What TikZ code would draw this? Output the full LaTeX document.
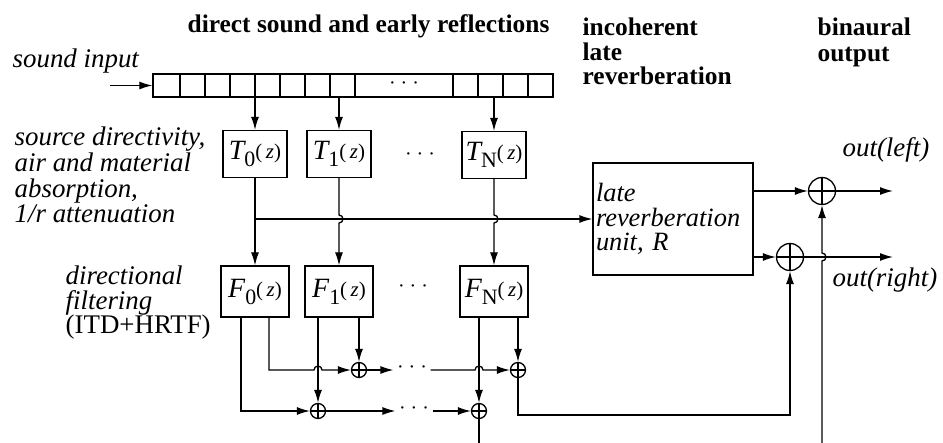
\documentclass[tikz,border=0pt]{standalone}
\usepackage{fontspec}
\setmainfont{Liberation Serif}
\usetikzlibrary{arrows.meta,calc,positioning}
\tikzset{
  blk/.style={draw,minimum width=64bp,minimum height=47bp,inner sep=1bp},
  fblk/.style={draw,minimum width=68bp,minimum height=51bp,inner sep=1bp},
  sumnode/.style={circle,draw,minimum size=15bp,inner sep=0pt,
    path picture={\draw (path picture bounding box.north) -- (path picture bounding box.south)
      (path picture bounding box.west) -- (path picture bounding box.east);}},
  bigsum/.style={sumnode,minimum size=27bp},
  head/.style={font=\fontsize{25.5}{25}\selectfont\bfseries,inner sep=0pt,anchor=base west,align=left},
  note/.style={font=\fontsize{27}{26}\selectfont\itshape,inner sep=0pt,anchor=base west,align=left},
  dotsnode/.style={font=\fontsize{20}{20}\selectfont,inner sep=3bp}
}
\newcommand\tf[2]{{\fontsize{28}{28}\selectfont\itshape #1}\raisebox{-7bp}{\fontsize{22}{22}\selectfont #2}{\fontsize{21}{21}\selectfont\raisebox{1bp}{(\,\textit{z})}}}

\begin{document}
\begin{tikzpicture}[x=1bp,y=-1bp,line width=1.3bp,>={Latex[length=13bp,width=8bp]}]
  \useasboundingbox (0,0) rectangle (943,443);
  % headings (multi-line nodes sit on their last baseline)
  \node[head] (hdirect) at (187,33) {direct sound and early reflections};
  \node[head] (hlate) at (582,85) {incoherent\\late\\reverberation};
  \node[head,font=\fontsize{25.5}{27}\selectfont\bfseries] (hbin) at (817,62) {binaural\\output};
  % side notes
  \node[note] (nin) at (12,68) {sound input};
  \node[note] (nsrc) at (14,223) {source directivity,\\air and material\\absorption,\\1/r attenuation};
  \node[note,font=\fontsize{27}{25}\selectfont\itshape] (ndir) at (65,334) {directional\\filtering\\{\upshape (ITD+HRTF)}};
  % delay line
  \node[draw,minimum width=400bp,minimum height=23bp,inner sep=0pt] (dline) at (353,85.5) {};
  \foreach \x in {180,205,230,255,280,305,330,355,453,478,503,528}
    \draw (\x,0 |- dline.north) -- (\x,0 |- dline.south);
  \node[dotsnode] (ddl) at (404,85.5) {· · ·};
  \coordinate (src) at (110,85.5);
  \draw[->] (src) -- (dline.west);
  % early reflection filters
  \node[blk] (T0) at (255,154) {\tf{T}{0}};
  \node[blk] (T1) at (339,154) {\tf{T}{1}};
  \node[blk] (TN) at (494,155) {\tf{T}{N}};
  \node[dotsnode] (dT) at (420,157) {· · ·};
  \foreach \t in {T0,T1,TN}
    \draw[->] (dline.south -| \t) -- (\t);
  % directional filters
  \node[fblk] (F0) at (255,291.5) {\tf{F}{0}};
  \node[fblk] (F1) at (339,291.5) {\tf{F}{1}};
  \node[fblk] (FN) at (494,291.5) {\tf{F}{N}};
  \node[dotsnode] (dF) at (413,289) {· · ·};
  % late reverberation
  \node[draw,minimum width=160bp,minimum height=112bp,text width=154bp,align=left,inner sep=3bp,
    font=\fontsize{26.5}{24.5}\selectfont\itshape] (R) at (673,219) {late\\reverberation\\unit, R};
  \draw[->] (T0) -- (F0);
  \draw[->] (T0.south |- R.west) -- (R.west);
  \draw[->] (T1) -- ($(T1 |- R.west)+(0,-4)$) arc[start angle=90,end angle=-90,radius=4bp] -- (F1);
  \draw[->] (TN) -- ($(TN |- R.west)+(0,-4)$) arc[start angle=90,end angle=-90,radius=4bp] -- (FN);
  % summation
  \node[sumnode] (u1) at (359,370) {};
  \node[sumnode] (uN) at (518,370) {};
  \node[sumnode] (l1) at (318,411) {};
  \node[sumnode] (lN) at (479,411) {};
  \node[dotsnode] (dup) at (412,370) {· · ·};
  \node[dotsnode] (dlow) at (414,411) {· · ·};
  \draw[->] ([xshift=-14bp]F0.south) |- (l1);
  \draw[->] ([xshift=14bp]F0.south) |- ($(l1 |- u1)+(-4,0)$) arc[start angle=180,end angle=0,radius=4bp] -- (u1);
  \draw[->] (F1.south -| l1) -- (l1);
  \draw[->] (F1.south -| u1) -- (u1);
  \draw[->] (FN.south -| lN) -- (lN);
  \draw[->] (FN.south -| uN) -- (uN);
  \draw[->] (u1) -- (dup);
  \draw[->] (dup) -- ($(lN |- uN)+(-4,0)$) arc[start angle=180,end angle=0,radius=4bp] -- (uN);
  \draw[->] (l1) -- (dlow);
  \draw[->] (dlow) -- (lN);
  % binaural output
  \node[bigsum] (sl) at (822,191) {};
  \node[bigsum] (sr) at (790,257) {};
  \coordinate (bot) at (0,443);
  \coordinate (low) at (0,415);
  \coordinate (outl) at (893,191);
  \coordinate (outr) at (893,257);
  \draw (lN) -- (lN |- bot);
  \draw[->] (uN) |- (sr |- low) -- (sr);
  \draw[->] (R.east |- sl) -- (sl);
  \draw[->] (R.east |- sr) -- (sr);
  \draw[->] (sl) -- (outl);
  \draw[->] (sr) -- (outr);
  \draw[->] (sl |- bot) -- ($(sl |- sr)+(0,4)$) arc[start angle=-90,end angle=90,radius=4bp] -- (sl);
  \node[note] (nl) at (842,157) {out(left)};
  \node[note] (nr) at (832,287) {out(right)};
\end{tikzpicture}
\end{document}
